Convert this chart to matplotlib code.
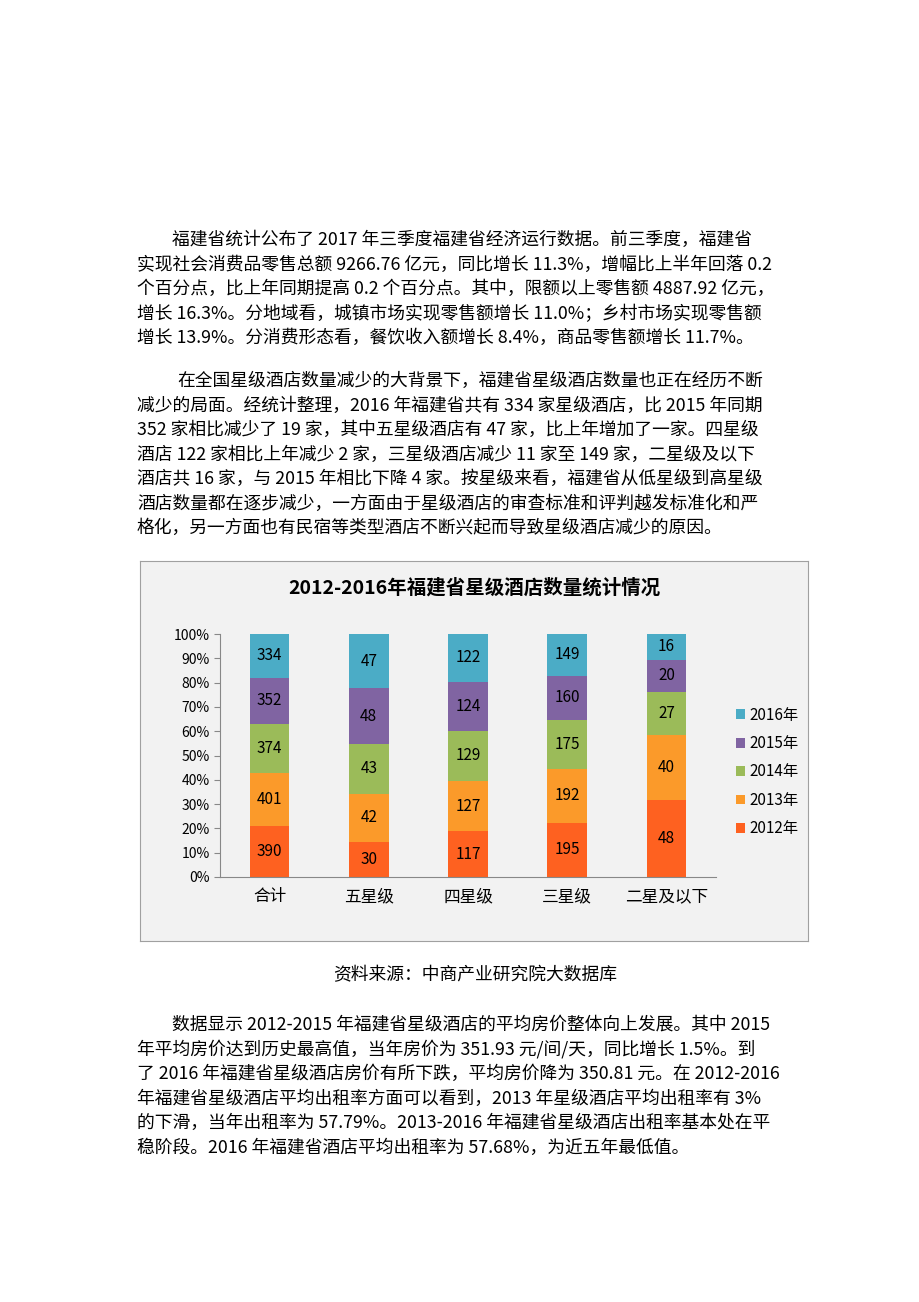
import matplotlib.pyplot as plt
import numpy as np

plt.rcParams['font.family'] = ['Noto Sans CJK SC', 'DejaVu Sans']

categories = ['合计', '五星级', '四星级', '三星级', '二星及以下']
years = ['2012年', '2013年', '2014年', '2015年', '2016年']
counts = {
    '2012年': [390, 30, 117, 195, 48],
    '2013年': [401, 42, 127, 192, 40],
    '2014年': [374, 43, 129, 175, 27],
    '2015年': [352, 48, 124, 160, 20],
    '2016年': [334, 47, 122, 149, 16],
}
colors = ['#fe6120', '#fb9a2a', '#9bbb59', '#8064a2', '#4bacc6']

para1 = [
    ('福建省统计公布了 2017 年三季度福建省经济运行数据。前三季度，福建省', True),
    ('实现社会消费品零售总额 9266.76 亿元，同比增长 11.3%，增幅比上半年回落 0.2', False),
    ('个百分点，比上年同期提高 0.2 个百分点。其中，限额以上零售额 4887.92 亿元，', False),
    ('增长 16.3%。分地域看，城镇市场实现零售额增长 11.0%；乡村市场实现零售额', False),
    ('增长 13.9%。分消费形态看，餐饮收入额增长 8.4%，商品零售额增长 11.7%。', False),
]
para2 = [
    ('在全国星级酒店数量减少的大背景下，福建省星级酒店数量也正在经历不断', True),
    ('减少的局面。经统计整理，2016 年福建省共有 334 家星级酒店，比 2015 年同期', False),
    ('352 家相比减少了 19 家，其中五星级酒店有 47 家，比上年增加了一家。四星级', False),
    ('酒店 122 家相比上年减少 2 家，三星级酒店减少 11 家至 149 家，二星级及以下', False),
    ('酒店共 16 家，与 2015 年相比下降 4 家。按星级来看，福建省从低星级到高星级', False),
    ('酒店数量都在逐步减少，一方面由于星级酒店的审查标准和评判越发标准化和严', False),
    ('格化，另一方面也有民宿等类型酒店不断兴起而导致星级酒店减少的原因。', False),
]
para3 = [
    ('数据显示 2012-2015 年福建省星级酒店的平均房价整体向上发展。其中 2015', True),
    ('年平均房价达到历史最高值，当年房价为 351.93 元/间/天，同比增长 1.5%。到', False),
    ('了 2016 年福建省星级酒店房价有所下跌，平均房价降为 350.81 元。在 2012-2016', False),
    ('年福建省星级酒店平均出租率方面可以看到，2013 年星级酒店平均出租率有 3%', False),
    ('的下滑，当年出租率为 57.79%。2013-2016 年福建省星级酒店出租率基本处在平', False),
    ('稳阶段。2016 年福建省酒店平均出租率为 57.68%，为近五年最低值。', False),
]

W, H = 920, 1302
fig = plt.figure(figsize=(W / 100, H / 100), dpi=100)
fig.patch.set_facecolor('white')


def put_lines(lines, y0, step=24.5, indent=35):
    for i, (txt, ind) in enumerate(lines):
        x = 137 + (indent if ind else 0)
        fig.text(x / W, 1 - (y0 + i * step) / H, txt, fontsize=12.8, va='center', ha='left')


put_lines(para1, 240)
put_lines(para2, 381, indent=40)
put_lines(para3, 1025)
fig.text(475 / W, 1 - 975 / H, '资料来源：中商产业研究院大数据库', fontsize=12.8, ha='center', va='center')

# chart frame
frame = fig.add_axes([140 / W, 1 - 941 / H, 668 / W, 380 / H])
frame.set_facecolor('#f2f2f2')
frame.set_xticks([]); frame.set_yticks([])
for s in frame.spines.values():
    s.set_color('#a0a0a0')
frame.text(0.5, 0.93, '2012-2016年福建省星级酒店数量统计情况', transform=frame.transAxes,
           ha='center', va='center', fontsize=14, fontweight='bold')

ax = fig.add_axes([220 / W, 1 - 877 / H, 496 / W, 243 / H])
ax.set_facecolor('none')
data = np.array([counts[y] for y in years], dtype=float)
pct = data / data.sum(axis=0)
x = np.arange(len(categories))
bottom = np.zeros(len(categories))
for i, y in enumerate(years):
    ax.bar(x, pct[i], 0.4, bottom=bottom, color=colors[i], label=y)
    for j in range(len(categories)):
        ax.text(x[j], bottom[j] + pct[i][j] / 2, str(int(data[i][j])),
                ha='center', va='center', fontsize=11)
    bottom += pct[i]
ax.set_xlim(-0.5, 4.5)
ax.set_ylim(0, 1)
ax.set_yticks(np.arange(0, 1.01, 0.1))
ax.set_yticklabels([f'{int(v * 100)}%' for v in np.arange(0, 1.01, 0.1)], fontsize=10)
ax.set_xticks(x)
ax.set_xticklabels(categories, fontsize=12)
ax.tick_params(axis='x', length=0, pad=8)
ax.tick_params(axis='y', length=4, direction='out', color='#888888')
for s in ['top', 'right']:
    ax.spines[s].set_visible(False)
ax.spines['left'].set_color('#888888')
ax.spines['bottom'].set_color('#888888')

h, l = ax.get_legend_handles_labels()
fig.legend(h[::-1], l[::-1], loc='center left', bbox_to_anchor=(722 / W, 1 - 772 / H),
           frameon=False, fontsize=11, handlelength=0.6, handleheight=0.6,
           handletextpad=0.3, labelspacing=0.75)

fig.savefig('out.png', dpi=100, facecolor='white')
